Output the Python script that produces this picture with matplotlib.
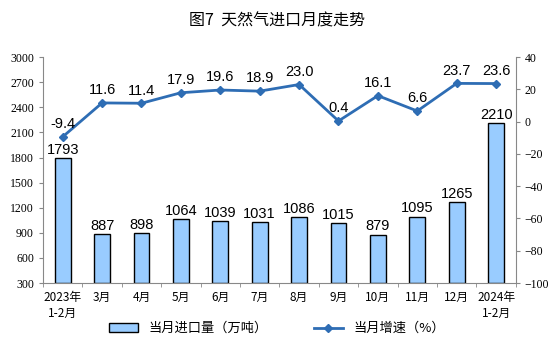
import matplotlib
matplotlib.use("Agg")
import matplotlib.pyplot as plt
import numpy as np

plt.rcParams["font.family"] = ["Noto Sans CJK SC", "DejaVu Sans"]

CATEGORIES = ["2023年\n1-2月", "3月", "4月", "5月", "6月", "7月", "8月",
              "9月", "10月", "11月", "12月", "2024年\n1-2月"]
VOLUME = [1793, 887, 898, 1064, 1039, 1031, 1086, 1015, 879, 1095, 1265, 2210]
GROWTH = [-9.4, 11.6, 11.4, 17.9, 19.6, 18.9, 23.0, 0.4, 16.1, 6.6, 23.7, 23.6]
GROWTH_LABELS = ["-9.4", "11.6", "11.4", "17.9", "19.6", "18.9", "23.0",
                 "0.4", "16.1", "6.6", "23.7", "23.6"]

BAR_COLOR = "#99CCFF"
LINE_COLOR = "#2E6DB4"
SPINE = "#888888"

fig = plt.figure(figsize=(5.54, 3.46), dpi=100)
ax = fig.add_axes([0.0776, 0.182, 0.8534, 0.653])
ax2 = ax.twinx()

x = np.arange(len(CATEGORIES))
ax.bar(x, np.array(VOLUME) - 300, 0.4, bottom=300, color=BAR_COLOR,
       edgecolor="black", linewidth=1.0, label="当月进口量（万吨）", zorder=2)
for xi, v in zip(x, VOLUME):
    ax.text(xi, v + 15, str(v), ha="center", va="bottom", fontsize=10.5,
            family="Liberation Sans")

ax2.plot(x, GROWTH, color=LINE_COLOR, linewidth=2, marker="D", markersize=4,
         label="当月增速（%）", zorder=3)
for xi, g, lab in zip(x, GROWTH, GROWTH_LABELS):
    ax2.text(xi, g + 3.5, lab, ha="center", va="bottom", fontsize=10.5,
             family="Liberation Sans")

ax.set_xlim(-0.5, len(CATEGORIES) - 0.5)
ax.set_ylim(300, 3000)
ax.set_yticks(range(300, 3001, 300))
ax2.set_ylim(-100, 40)
ax2.set_yticks(range(-100, 41, 20))

ax.set_xticks(x)
ax.set_xticklabels(CATEGORIES, fontsize=8.5, linespacing=1.3)
ax.set_xticks(np.arange(-0.5, len(CATEGORIES), 1), minor=True)
ax.tick_params(axis="x", which="major", length=0, pad=6)
ax.tick_params(axis="x", which="minor", length=3, color=SPINE)
ax.tick_params(axis="y", labelsize=8.5, length=3, color=SPINE,
               labelfontfamily="Liberation Serif")
ax2.tick_params(axis="y", labelsize=8.5, length=3, color=SPINE,
                labelfontfamily="Liberation Serif")

for a in (ax, ax2):
    a.spines["top"].set_visible(False)
    for s in ("left", "right", "bottom"):
        a.spines[s].set_color(SPINE)
ax2.spines["left"].set_visible(False)
ax2.spines["bottom"].set_visible(False)
ax.spines["right"].set_visible(False)
ax.set_zorder(ax2.get_zorder() - 1)
ax2.patch.set_visible(False)

h1, l1 = ax.get_legend_handles_labels()
h2, l2 = ax2.get_legend_handles_labels()
fig.legend(h1 + h2, l1 + l2, loc="center", bbox_to_anchor=(0.5, 0.05),
           ncol=2, frameon=False, fontsize=9.5, columnspacing=3.5,
           handlelength=2.2, handleheight=0.6)

fig.text(0.5, 0.94, "图7  天然气进口月度走势", ha="center", va="center",
         fontsize=11.5, fontweight="medium")

fig.savefig("out.png", dpi=100)
